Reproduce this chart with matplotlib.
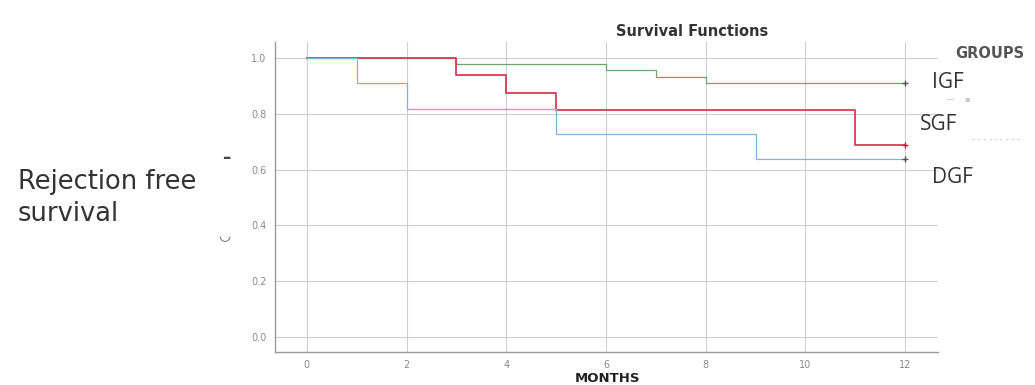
import matplotlib
matplotlib.use("Agg")
import matplotlib.pyplot as plt

# ── Data (Kaplan-Meier steps) ──────────────────────────────────────────────────
groups = ["IGF", "SGF", "DGF"]
igf_t = [0, 3, 6, 7, 8, 12]
igf_s = [1.0, 0.977, 0.955, 0.932, 0.909, 0.909]
sgf_t = [0, 3, 4, 5, 11, 12]
sgf_s = [1.0, 0.938, 0.875, 0.813, 0.688, 0.688]
dgf_t = [0, 1, 2, 5, 9, 12]
dgf_s = [1.0, 0.909, 0.818, 0.727, 0.636, 0.636]
censor_t = 12

x_ticks = [0, 2, 4, 6, 8, 10, 12]
y_ticks = [0.0, 0.2, 0.4, 0.6, 0.8, 1.0]

colors = {"IGF": "#6aa86a", "SGF": "#dc3a55", "DGF": "#86b0dc"}
series = {"IGF": (igf_t, igf_s), "SGF": (sgf_t, sgf_s), "DGF": (dgf_t, dgf_s)}

W, H = 1035, 385
fig = plt.figure(figsize=(W / 100, H / 100), dpi=100)
ax = fig.add_axes([275 / W, 1 - 352 / H, (938 - 275) / W, (352 - 42) / H])

for g in groups:
    t, s = series[g]
    lw = 1.3 if g == "SGF" else 0.9
    ax.step(t, s, where="post", color=colors[g], lw=lw, zorder=3)
    ax.plot([censor_t], [s[-1]], marker="+", ms=5, mew=1.0,
            color="#555555" if g != "SGF" else "#b0203a", zorder=4)

ax.set_xlim(-0.64, 12.66)
ax.set_ylim(-0.054, 1.057)
ax.set_xticks(x_ticks)
ax.set_yticks(y_ticks)
ax.set_xticklabels([str(v) for v in x_ticks])
ax.set_yticklabels([f"{v:.1f}" for v in y_ticks])
ax.tick_params(length=0, labelsize=7, labelcolor="#8a8a8a", pad=6)
ax.grid(True, color="#cfcfcf", lw=0.8)
ax.set_axisbelow(True)
for side in ["top", "right"]:
    ax.spines[side].set_visible(False)
for side in ["left", "bottom"]:
    ax.spines[side].set_color("#9a9a9a")
    ax.spines[side].set_linewidth(1.0)

# ── Texts ─────────────────────────────────────────────────────────────────────
fig.text(692 / W, 1 - 31 / H, "Survival Functions", fontsize=10.5, fontweight="bold",
         ha="center", va="center", color="#333333")
fig.text(607 / W, 0.5 / H, "MONTHS", fontsize=9.5, fontweight="bold",
         ha="center", va="bottom", color="#222222")
fig.text(955 / W, 1 - 54 / H, "GROUPS", fontsize=10.5, fontweight="bold",
         ha="left", va="center", color="#555555")

fig.text(18 / W, 1 - 182 / H, "Rejection free", fontsize=18.5,
         ha="left", va="center", color="#333333")
fig.text(18 / W, 1 - 214 / H, "survival", fontsize=18.5,
         ha="left", va="center", color="#333333")
fig.text(226 / W, 1 - 158 / H, "\u2013", fontsize=12, fontweight="bold",
         ha="center", va="center", color="#444444")
fig.text(224 / W, 1 - 236 / H, "\u25e1", fontsize=10, ha="center", va="center",
         color="#555555")

label_pos = {"IGF": (932, 83), "SGF": (920, 125), "DGF": (932, 177)}
for g in groups:
    x, y = label_pos[g]
    fig.text(x / W, 1 - y / H, g, fontsize=15, family="Open Sans",
             ha="left", va="center", color="#333333")

# faint legend remnants
fig.text(946 / W, 1 - 100 / H, "\u2014  \u00b7 \u25aa", fontsize=6, color="#c8c8c8",
         ha="left", va="center")
fig.text(972 / W, 1 - 140 / H, "- - - - - - - - -", fontsize=6, color="#c0c0c0",
         ha="left", va="center")

fig.savefig("out.png", dpi=100)
